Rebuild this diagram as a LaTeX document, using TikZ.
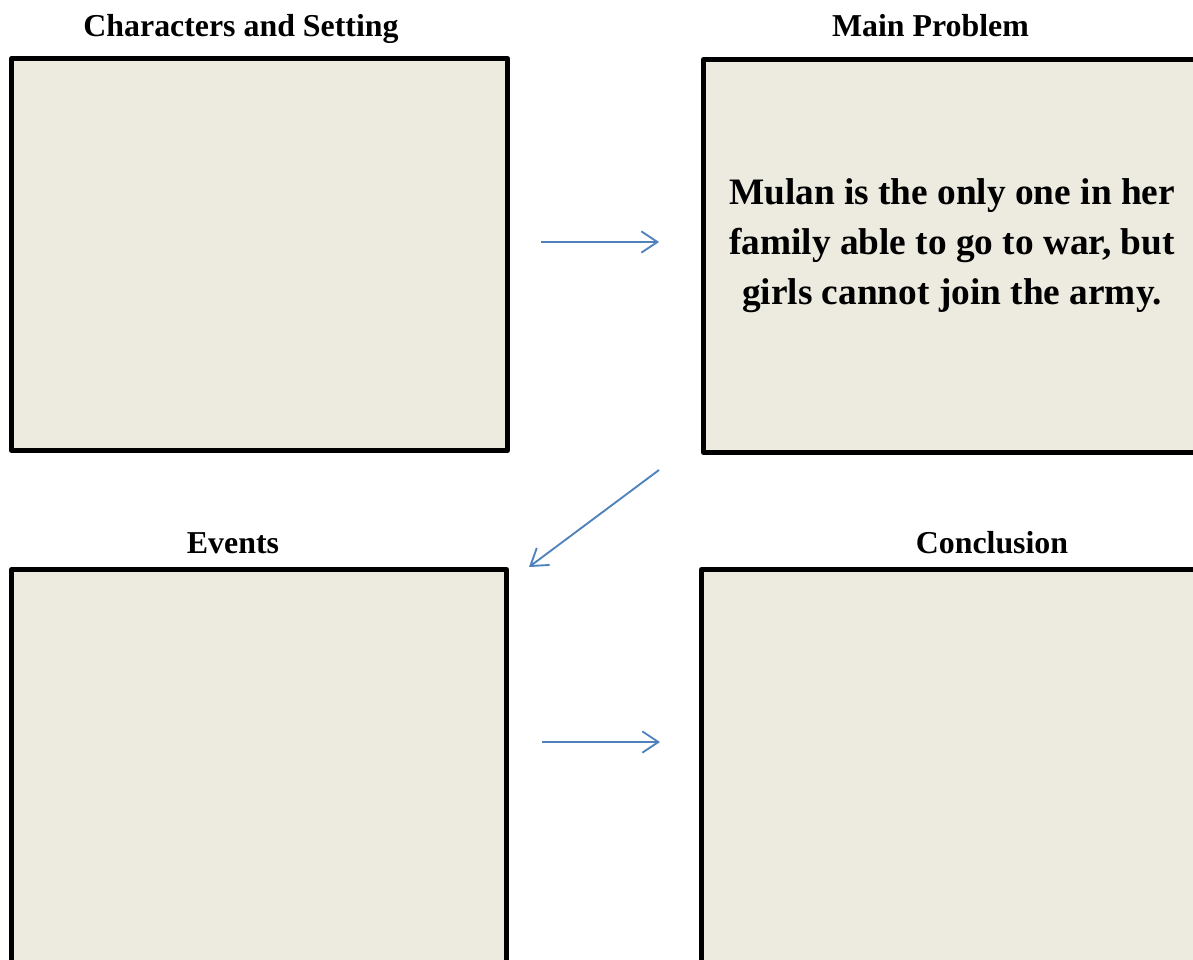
\documentclass[tikz,border=0pt]{standalone}
\usepackage{fontspec}
\setmainfont{Liberation Serif}
\usetikzlibrary{arrows.meta}
\definecolor{boxfill}{HTML}{EDEBE0}
\definecolor{arrblue}{HTML}{4F81BD}
\tikzset{
  box/.style={draw=black, line width=3.75pt, fill=boxfill, inner sep=0pt, line join=round},
  title/.style={font=\fontsize{23.9pt}{28pt}\selectfont\bfseries, anchor=base, inner sep=0pt},
  arr/.style={draw=arrblue, line width=1.4pt, -{Straight Barb[length=12pt, width=16pt, line width=1.4pt]}},
  body/.style={font=\fontsize{28pt}{37.5pt}\selectfont\bfseries, align=center, inner sep=0pt}
}
\begin{document}
\begin{tikzpicture}[x=0.75pt, y=-0.75pt]
\useasboundingbox (0,0) rectangle (1193,960);
\clip (0,0) rectangle (1193,960);
\node[box, minimum width=372pt, minimum height=294pt] (b1) at (259.5,254.5) {};
\node[box, minimum width=376.1pt, minimum height=294.75pt] (b2) at (954.25,256) {};
\node[box, minimum width=371.25pt, minimum height=304.1pt] (b3) at (259,772.25) {};
\node[box, minimum width=377.6pt, minimum height=304.1pt] (b4) at (953.25,772.25) {};
\node[title] (t1) at (241,36.5) {Characters and Setting};
\node[title] (t2) at (930.5,36.5) {Main Problem};
\node[title] (t3) at (233,553.5) {Events};
\node[title] (t4) at (992,553.5) {Conclusion};
\node[body] (txt) at (952,246) {Mulan is the only one in her\\family able to go to war, but\\girls cannot join the army.};
\coordinate (a1s) at (541,242);
\coordinate (a1e) at (659,242);
\coordinate (a2s) at (659,470);
\coordinate (a2e) at (529,567);
\coordinate (a3s) at (542,742);
\coordinate (a3e) at (660,742);
\draw[arr] (a1s) -- (a1e);
\draw[arr] (a2s) -- (a2e);
\draw[arr] (a3s) -- (a3e);
\end{tikzpicture}
\end{document}
